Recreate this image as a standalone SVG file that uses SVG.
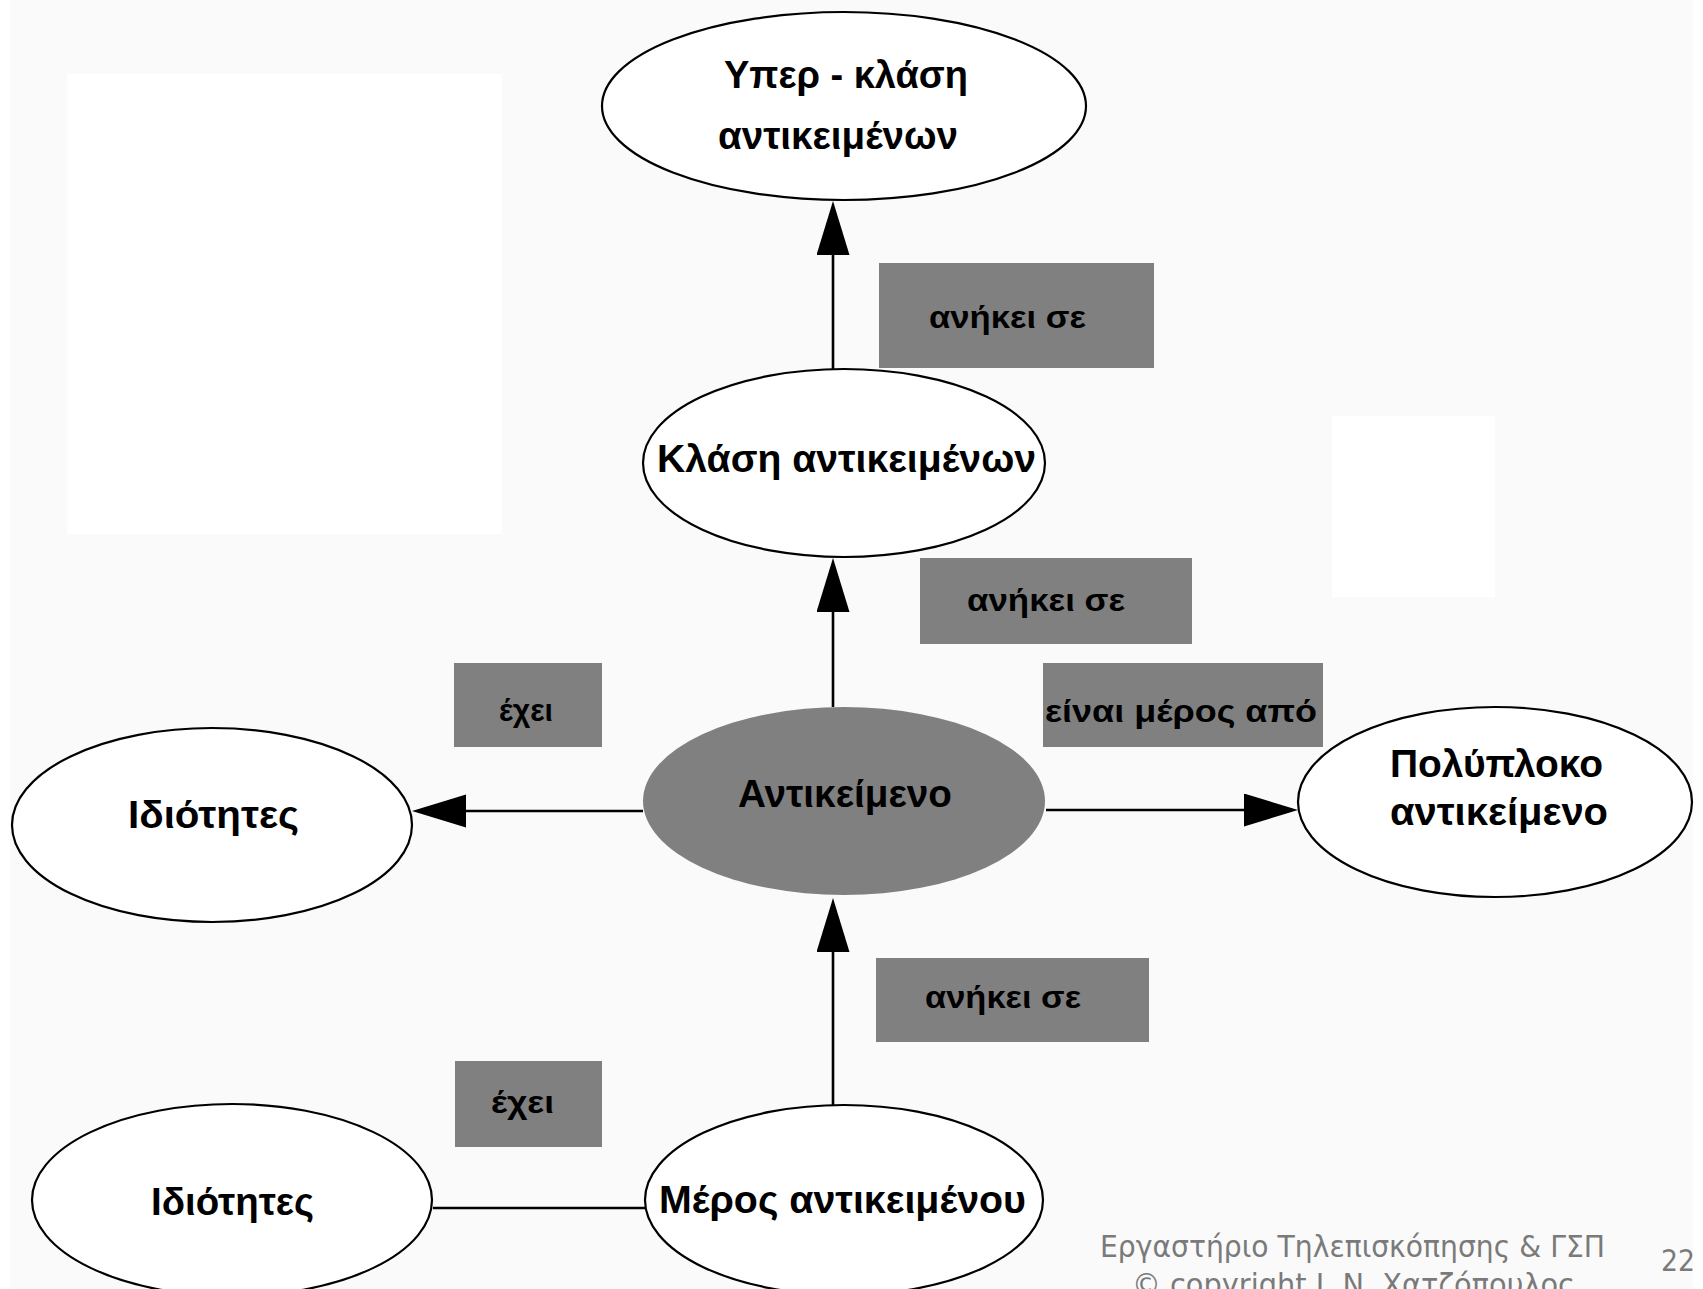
<svg xmlns="http://www.w3.org/2000/svg" width="1703" height="1289" viewBox="0 0 1703 1289">
  <style>
    .node { fill: #ffffff; stroke: #000000; stroke-width: 2.2; }
    .node-main { fill: #808080; stroke: none; }
    .label-box { fill: #808080; }
    .t { font-family: "Liberation Sans", Arial, sans-serif; font-weight: bold; font-size: 39px; fill: #000000; }
    .tl { font-family: "Liberation Sans", Arial, sans-serif; font-weight: bold; font-size: 32px; fill: #000000; }
    .foot { font-family: "DejaVu Sans", Verdana, sans-serif; font-size: 31px; fill: #7a7a7a; }
    .edge { stroke: #000000; stroke-width: 2.6; fill: none; }
    .arrow { marker-end: url(#head); }
  </style>
  <defs>
    <marker id="head" markerUnits="userSpaceOnUse" markerWidth="54" markerHeight="34" refX="48" refY="16.5" orient="auto">
      <path d="M0,0 L54,16.5 L0,33 Z" fill="#000000"/>
    </marker>
  </defs>

  <!-- page -->
  <rect x="0" y="0" width="1703" height="1289" fill="#ffffff"/>
  <rect x="10" y="0" width="1683" height="1289" fill="#fafafa"/>
  <rect x="67" y="74" width="435" height="460" fill="#ffffff"/>
  <rect x="1332" y="416" width="163" height="181" fill="#ffffff"/>

  <!-- connectors -->
  <g id="connectors">
    <line class="edge arrow" x1="833" y1="369" x2="833" y2="207"/>
    <line class="edge arrow" x1="833" y1="707" x2="833" y2="564"/>
    <line class="edge arrow" x1="833" y1="1105" x2="833" y2="904"/>
    <line class="edge arrow" x1="643" y1="811" x2="418" y2="811"/>
    <line class="edge arrow" x1="1046" y1="810" x2="1292" y2="810"/>
    <line class="edge" x1="433" y1="1208" x2="645" y2="1208"/>
  </g>

  <!-- relation labels -->
  <g id="label-belongs-1">
    <rect class="label-box" x="879" y="263" width="275" height="105"/>
    <text class="tl" x="929" y="328" textLength="157" lengthAdjust="spacingAndGlyphs">ανήκει σε</text>
  </g>
  <g id="label-belongs-2">
    <rect class="label-box" x="920" y="558" width="272" height="86"/>
    <text class="tl" x="967" y="611" textLength="158" lengthAdjust="spacingAndGlyphs">ανήκει σε</text>
  </g>
  <g id="label-belongs-3">
    <rect class="label-box" x="876" y="958" width="273" height="84"/>
    <text class="tl" x="925" y="1008" textLength="156" lengthAdjust="spacingAndGlyphs">ανήκει σε</text>
  </g>
  <g id="label-has-1">
    <rect class="label-box" x="454" y="663" width="148" height="84"/>
    <text class="tl" x="499" y="721" textLength="54" lengthAdjust="spacingAndGlyphs">έχει</text>
  </g>
  <g id="label-has-2">
    <rect class="label-box" x="455" y="1061" width="147" height="86"/>
    <text class="tl" x="491" y="1113" textLength="63" lengthAdjust="spacingAndGlyphs">έχει</text>
  </g>
  <g id="label-part-of">
    <rect class="label-box" x="1043" y="663" width="280" height="84"/>
    <text class="tl" x="1045" y="722" textLength="272" lengthAdjust="spacingAndGlyphs">είναι μέρος από</text>
  </g>

  <!-- nodes -->
  <g id="node-superclass">
    <ellipse class="node" cx="844" cy="106" rx="242" ry="94"/>
    <text class="t" x="724" y="88" textLength="244" lengthAdjust="spacingAndGlyphs">Υπερ - κλάση</text>
    <text class="t" x="718" y="149" textLength="240" lengthAdjust="spacingAndGlyphs">αντικειμένων</text>
  </g>
  <g id="node-class">
    <ellipse class="node" cx="844" cy="463" rx="201" ry="94"/>
    <text class="t" x="657" y="472" textLength="379" lengthAdjust="spacingAndGlyphs">Κλάση αντικειμένων</text>
  </g>
  <g id="node-object">
    <ellipse class="node-main" cx="844" cy="801" rx="201" ry="94"/>
    <text class="t" x="738" y="807" textLength="214" lengthAdjust="spacingAndGlyphs">Αντικείμενο</text>
  </g>
  <g id="node-properties-1">
    <ellipse class="node" cx="212" cy="825" rx="200" ry="97"/>
    <text class="t" x="128" y="828" textLength="171" lengthAdjust="spacingAndGlyphs">Ιδιότητες</text>
  </g>
  <g id="node-complex-object">
    <ellipse class="node" cx="1495" cy="802" rx="197" ry="95"/>
    <text class="t" x="1390" y="777" textLength="213" lengthAdjust="spacingAndGlyphs">Πολύπλοκο</text>
    <text class="t" x="1390" y="825" textLength="218" lengthAdjust="spacingAndGlyphs">αντικείμενο</text>
  </g>
  <g id="node-object-part">
    <ellipse class="node" cx="844" cy="1200" rx="199" ry="95"/>
    <text class="t" x="659" y="1213" textLength="367" lengthAdjust="spacingAndGlyphs">Μέρος αντικειμένου</text>
  </g>
  <g id="node-properties-2">
    <ellipse class="node" cx="232" cy="1200" rx="200" ry="96"/>
    <text class="t" x="151" y="1215" textLength="163" lengthAdjust="spacingAndGlyphs">Ιδιότητες</text>
  </g>

  <!-- footer -->
  <g id="footer">
    <text class="foot" x="1100" y="1257" textLength="505" lengthAdjust="spacingAndGlyphs">Εργαστήριο Τηλεπισκόπησης &amp; ΓΣΠ</text>
    <text class="foot" x="1132" y="1295" textLength="443" lengthAdjust="spacingAndGlyphs">© copyright I. N. Χατζόπουλος</text>
    <text class="foot" x="1661" y="1271" textLength="34" lengthAdjust="spacingAndGlyphs">22</text>
  </g>
</svg>
